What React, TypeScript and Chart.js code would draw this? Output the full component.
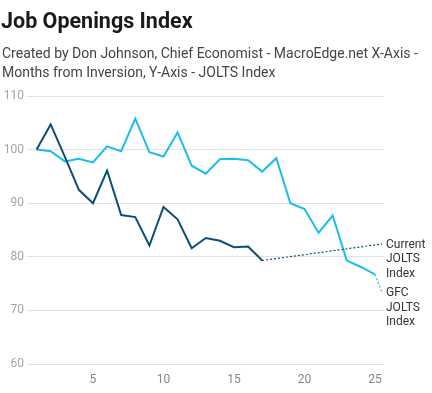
import React, { useEffect, useRef } from "react";
import { Chart, registerables } from "chart.js";

Chart.register(...registerables);

const months = [1, 2, 3, 4, 5, 6, 7, 8, 9, 10, 11, 12, 13, 14, 15, 16, 17, 18, 19, 20, 21, 22, 23, 24, 25];
const currentJolts = [100, 104.7, 98.7, 92.5, 90.0, 96.1, 87.8, 87.4, 82.1, 89.3, 87.0, 81.6, 83.5, 83.0, 81.8, 81.9, 79.3];
const gfcJolts = [100, 99.7, 97.8, 98.3, 97.6, 100.6, 99.7, 105.8, 99.5, 98.7, 103.2, 97.0, 95.5, 98.2, 98.3, 98.0, 95.9, 98.4, 90.0, 88.9, 84.5, 87.7, 79.3, 78.1, 76.7];
const seriesNames = [["Current", "JOLTS", "Index"], ["GFC", "JOLTS", "Index"]];
const labelAnchors = [82.4, 73.4];
const xTicks = [5, 10, 15, 20, 25];
const yTicks = [60, 70, 80, 90, 100, 110];

const CURRENT_COLOR = "#0b4f75";
const GFC_COLOR = "#1cbcec";

const endLabels = {
  id: "endLabels",
  afterDatasetsDraw(chart: any) {
    const ctx = chart.ctx;
    const yScale = chart.scales.y;
    const area = chart.chartArea;
    chart.data.datasets.forEach((ds: any, i: number) => {
      const meta = chart.getDatasetMeta(i);
      const last = meta.data[meta.data.length - 1];
      const tx = area.right - 2;
      const ty = yScale.getPixelForValue(labelAnchors[i]);
      ctx.save();
      ctx.strokeStyle = ds.borderColor;
      ctx.lineWidth = 1.2;
      ctx.setLineDash([2, 2]);
      ctx.beginPath();
      ctx.moveTo(last.x, last.y);
      ctx.lineTo(tx, ty);
      ctx.stroke();
      ctx.setLineDash([]);
      ctx.fillStyle = "#333333";
      ctx.font = "12px Roboto";
      ctx.textBaseline = "middle";
      ctx.textAlign = "left";
      seriesNames[i].forEach((line, j) => {
        ctx.fillText(line, tx + 4, ty + 1 + j * 14.5);
      });
      ctx.restore();
    });
  },
};

export default function App() {
  const ref = useRef<HTMLCanvasElement | null>(null);
  useEffect(() => {
    if (!ref.current) return;
    const chart = new Chart(ref.current, {
      type: "line",
      data: {
        datasets: [
          {
            label: "Current JOLTS Index",
            data: currentJolts.map((v, i) => ({ x: months[i], y: v })),
            borderColor: CURRENT_COLOR,
            borderWidth: 2,
            pointRadius: 0,
            tension: 0,
          },
          {
            label: "GFC JOLTS Index",
            data: gfcJolts.map((v, i) => ({ x: months[i], y: v })),
            borderColor: GFC_COLOR,
            borderWidth: 2,
            pointRadius: 0,
            tension: 0,
          },
        ],
      },
      options: {
        animation: false,
        responsive: false,
        devicePixelRatio: 1,
        layout: { padding: { top: 96, right: 48, left: 0, bottom: 0 } },
        plugins: { legend: { display: false }, tooltip: { enabled: false } },
        scales: {
          x: {
            type: "linear",
            min: 0.32,
            max: 25.64,
            grid: { display: false },
            border: { display: false },
            afterBuildTicks: (s: any) => {
              s.ticks = xTicks.map((v) => ({ value: v }));
            },
            afterFit: (s: any) => {
              s.height = 29;
            },
            ticks: {
              padding: 1,
              color: "#858585",
              font: { family: "Roboto", size: 12 },
              maxRotation: 0,
              autoSkip: false,
            },
          },
          y: {
            min: 60,
            max: 110,
            grid: { color: "#e2e2e2", drawTicks: false, lineWidth: 1 },
            border: { display: false },
            afterBuildTicks: (s: any) => {
              s.ticks = yTicks.map((v) => ({ value: v }));
            },
            afterFit: (s: any) => {
              s.width = 27;
            },
            ticks: {
              padding: 3,
              color: "#a3a3a3",
              font: { family: "Roboto", size: 12 },
            },
          },
        },
      },
      plugins: [endLabels],
    } as any);
    return () => chart.destroy();
  }, []);

  return (
    <div style={{ position: "fixed", left: 0, top: 0, width: 432, height: 393, background: "#fff", fontFamily: "Roboto" }}>
      <canvas ref={ref} width={432} height={393} style={{ position: "absolute", left: 0, top: 0 }} />
      <div style={{ position: "absolute", left: 1, top: 7, fontSize: 21.5, fontWeight: 700, color: "#1a1a1a", lineHeight: "28px" }}>
        Job Openings Index
      </div>
      <div style={{ position: "absolute", left: 2, top: 44, width: 425, fontSize: 14, color: "#444", lineHeight: "19px" }}>
        Created by Don Johnson, Chief Economist - MacroEdge.net X-Axis - Months from Inversion, Y-Axis - JOLTS Index
      </div>
    </div>
  );
}
